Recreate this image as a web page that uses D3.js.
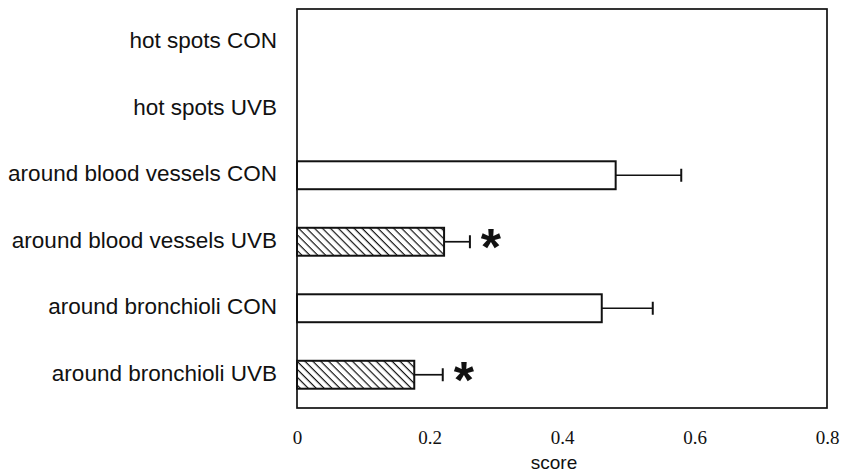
<!DOCTYPE html>
<html>
<head>
<meta charset="utf-8">
<script src="https://cdn.jsdelivr.net/npm/d3@7"></script>
<style>
  body { margin: 0; background: #fff; }
  .cat { font-family: "Liberation Sans", Arial, sans-serif; font-size: 22.5px; fill: #111; }
  .tick text { font-family: "Liberation Serif", "Times New Roman", serif; font-size: 19px; fill: #111; }
</style>
</head>
<body>
<svg id="chart" width="847" height="473"></svg>
<script>
// data
const categories = ["hot spots CON", "hot spots UVB", "around blood vessels CON",
  "around blood vessels UVB", "around bronchioli CON", "around bronchioli UVB"];
const means = [null, null, 0.481, 0.222, 0.460, 0.177];
const errTops = [null, null, 0.58, 0.261, 0.537, 0.220];
const hatched = [false, false, false, true, false, true];
const significant = [false, false, false, true, false, true];
const xTicks = [0, 0.2, 0.4, 0.6, 0.8];

const svg = d3.select("#chart");
const plotLeft = 297, plotRight = 827, plotTop = 9, plotBottom = 408;

const x = d3.scaleLinear().domain([0, 0.8]).range([plotLeft, plotRight]);
const y = d3.scaleBand().domain(categories).range([plotTop, plotBottom]).paddingInner(0.58).paddingOuter(0.29);
const mid = c => y(c) + y.bandwidth() / 2;

// hatch pattern, lines running top-left to bottom-right
const defs = svg.append("defs");
const pat = defs.append("pattern")
  .attr("id", "hatch")
  .attr("patternUnits", "userSpaceOnUse")
  .attr("width", 5.6).attr("height", 5.6)
  .attr("patternTransform", "rotate(45)");
pat.append("rect").attr("width", 5.6).attr("height", 5.6).attr("fill", "#fff");
pat.append("line").attr("x1", 0).attr("y1", 0).attr("x2", 5.6).attr("y2", 0)
  .attr("stroke", "#111").attr("stroke-width", 2.4);

// frame
svg.append("rect")
  .attr("x", plotLeft).attr("y", plotTop)
  .attr("width", plotRight - plotLeft).attr("height", plotBottom - plotTop)
  .attr("fill", "none").attr("stroke", "#111").attr("stroke-width", 1.7);

// x axis labels
const xAxis = svg.append("g")
  .attr("transform", `translate(0,${plotBottom})`)
  .call(d3.axisBottom(x).tickValues(xTicks).tickSize(0).tickPadding(23)
    .tickFormat(d => d === 0 ? "0" : d3.format(".1f")(d)));
xAxis.select(".domain").remove();

svg.append("text")
  .attr("x", 554).attr("y", 469)
  .attr("text-anchor", "middle")
  .attr("class", "cat")
  .style("font-size", "19px")
  .text("score");

// category labels
svg.selectAll(".cat-label")
  .data(categories)
  .enter().append("text")
  .attr("class", "cat")
  .attr("x", 277)
  .attr("y", d => mid(d))
  .attr("dy", "0.27em")
  .attr("text-anchor", "end")
  .text(d => d);

const rows = categories.map((c, i) => ({c, m: means[i], e: errTops[i], h: hatched[i], s: significant[i]}))
  .filter(d => d.m != null);

// error bars
const eb = svg.selectAll(".err").data(rows).enter().append("g").attr("class", "err");
eb.append("line")
  .attr("x1", d => x(d.m)).attr("x2", d => x(d.e))
  .attr("y1", d => mid(d.c)).attr("y2", d => mid(d.c))
  .attr("stroke", "#111").attr("stroke-width", 1.7);
eb.append("line")
  .attr("x1", d => x(d.e)).attr("x2", d => x(d.e))
  .attr("y1", d => mid(d.c) - 6.5).attr("y2", d => mid(d.c) + 6.5)
  .attr("stroke", "#111").attr("stroke-width", 2);

// bars
svg.selectAll(".bar").data(rows).enter().append("rect")
  .attr("class", "bar")
  .attr("x", x(0))
  .attr("y", d => y(d.c))
  .attr("width", d => x(d.m) - x(0))
  .attr("height", y.bandwidth())
  .attr("fill", d => d.h ? "url(#hatch)" : "#fff")
  .attr("stroke", "#111").attr("stroke-width", 2);

// significance stars
const starSize = 52;
svg.selectAll(".star").data(rows.filter(d => d.s)).enter().append("text")
  .attr("x", d => x(d.e) + 21)
  .attr("y", d => mid(d.c) + 0.44 * starSize)
  .attr("text-anchor", "middle")
  .attr("font-family", "Liberation Sans, Arial, sans-serif")
  .attr("font-size", starSize).attr("font-weight", "bold")
  .attr("fill", "#111")
  .text("*");
</script>
</body>
</html>
